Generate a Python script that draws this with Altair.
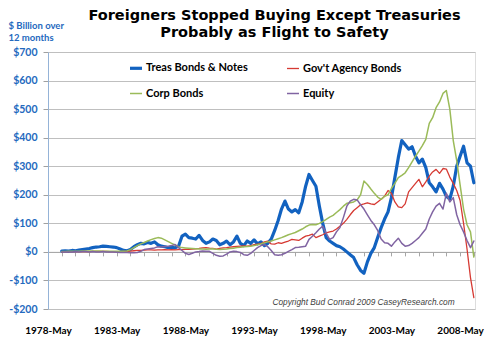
import altair as alt
import pandas as pd

# Quarterly observations, 1979-May .. 2009-May (12-month sums, $ billion)
dates = pd.date_range("1979-05-01", "2009-05-01", freq="3MS")

treas = [3, 4, 3,
         5, 4, 6, 8,  10, 12, 15, 17,  18, 20, 19, 18,  17, 15, 10, 5,
         4, 8, 18, 25,  30, 28, 33, 30,  35, 25, 20, 18,  15, 16, 14, 20,
         55, 62, 50, 48,  45, 58, 40, 30,  35, 45, 40, 25,  30, 38, 25, 35,
         55, 30, 22, 38,  30, 42, 28, 35,  22, 30, 45, 75,  110, 150, 178, 150,
         140, 148, 137, 175,  230, 271, 250, 230,  160, 100, 50, 38,  30, 22, 18, 10,
         0, -10, -20, -45,  -65, -75, -35, -5,  15, 50, 85, 115,  140, 190, 260, 330,
         390, 375, 360, 368,  335, 312, 325, 295,  242, 228, 210, 240,  220, 195, 185, 230,
         300, 335, 370, 312,
         300, 242]

agency = [0, 0, 1,
          1, 1, 1, 1,  1, 1, 2, 2,  2, 2, 2, 1,  1, 1, 1, 2,
          2, 3, 4, 5,  5, 6, 7, 7,  6, 7, 7, 8,  7, 8, 7, 8,
          8, 9, 9, 10,  11, 12, 14, 15,  13, 12, 10, 12,  14, 15, 17, 18,
          19, 20, 21, 20,  22, 25, 27, 29,  35, 38, 28, 27,  32, 30, 34, 38,
          44, 42, 40, 48,  55, 58, 62, 50,  55, 60, 67, 70,  73, 80, 90, 100,
          114, 130, 145, 155,  165, 168, 172, 168,  166, 175, 184, 195,  215, 205, 175, 158,
          155, 168, 210, 225,  240, 254, 228, 245,  265, 280, 289, 275,  292, 290, 262, 240,
          215, 180, 100, 10,
          -90, -160]

corp = [1, 1, 2,
        2, 2, 2, 3,  3, 3, 3, 3,  3, 2, 2, 2,  2, 2, 2, 2,
        3, 8, 15, 22,  28, 33, 38, 43,  47, 50, 48, 42,  36, 30, 24, 18,
        15, 14, 13, 12,  11, 10, 10, 9,  10, 11, 9, 8,  9, 10, 12, 13,
        15, 16, 18, 19,  20, 22, 25, 28,  32, 35, 38, 42,  46, 50, 55, 60,
        64, 68, 74, 80,  88, 94, 96, 95,  100, 106, 114, 122,  128, 138, 148, 160,
        170, 172, 175, 182,  200, 248, 236, 220,  205, 192, 184, 195,  200, 222, 240, 260,
        268, 277, 295, 315,  335, 353, 372, 394,  450, 470, 505, 525,  555, 565, 500, 390,
        320, 235, 150, 95,
        70, -18]

equity = [0, 0, 0,
          0, 1, 0, 1,  1, 0, 1, 0,  0, 1, 0, 0,  0, -1, -2, -2,
          -2, -3, -3, -2,  2, 8, 10, 12,  14, 18, 17, 19,  20, 22, 26, 15,
          5, -5, -9, -5,  0, 1, 3, 2,  2, -5, -12, -15,  -14, -8, 0, 2,
          1, -2, -10, -12,  -5, 5, 15, 22,  26, 18, 5, -10,  -12, -10, -5, 2,
          8, 15, 16, 18,  20, 44, 55, 67,  80, 90, 65, 44,  50, 70, 85, 120,
          160, 178, 184, 182,  165, 150, 130, 110,  95, 75, 45, 32,  30, 20, 35, 48,
          30, 20, 22, 30,  40, 50, 65, 80,  115, 140, 160, 170,  150, 205, 175, 190,
          130, 95, 70, 40,
          15, 38]

series_names = ["Treas Bonds & Notes", "Gov't Agency Bonds", "Corp Bonds", "Equity"]
series_colors = ["#1262C0", "#D63A33", "#9BBB59", "#8064A2"]
series_widths = [3.2, 1.3, 1.5, 1.5]
series_values = [treas, agency, corp, equity]

tick_years = list(range(1978, 2010))          # yearly category ticks on the $0 line
label_every = 5                               # labels at 1978, 1983, ... 2008
y_ticks = [-200, -100, 0, 100, 200, 300, 400, 500, 600, 700]
copyright_text = "Copyright Bud Conrad  2009 CaseyResearch.com"

FONT = "Lato, sans-serif"
BLUE_TXT = "#2469BE"

df = pd.concat([
    pd.DataFrame({"date": dates, "value": vals, "series": name})
    for name, vals in zip(series_names, series_values)
])

PLOT_W, PLOT_H = 427, 257
zero_px = PLOT_H * 700 / 900  # pixel position of $0 from the top

x_enc = alt.X(
    "date:T",
    scale=alt.Scale(domain=[alt.DateTime(year=1978, month=5, date=1),
                            alt.DateTime(year=2009, month=6, date=1)]),
    axis=alt.Axis(
        values=[alt.DateTime(year=y, month=5, date=1) for y in tick_years],
        labelExpr=f"(year(datum.value) - 1978) % {label_every} == 0 ? timeFormat(datum.value, '%Y-%b') : ''",
        offset=-(PLOT_H - zero_px), grid=False,
        domain=True, domainColor="#A6A6A6", ticks=True, tickColor="#A6A6A6", tickSize=4,
        labelPadding=70, labelFlush=False, labelFont=FONT, labelFontSize=10,
        labelFontWeight="bold", labelColor="black", labelOverlap=False, labelBound=False,
        title=copyright_text, titleFont="Liberation Sans, Arial, sans-serif",
        titleFontSize=8.3, titleFontStyle="italic", titleFontWeight="normal",
        titleColor="#404040", titleX=315, titleY=51, titleAlign="center",
        titleBaseline="middle", titleAnchor="start",
    ),
)

y_enc = alt.Y(
    "value:Q",
    scale=alt.Scale(domain=[-200, 700], nice=False, zero=False),
    axis=alt.Axis(
        values=y_ticks, tickCount=10,
        labelExpr="(datum.value < 0 ? '-$' : '$') + abs(datum.value)",
        title=["$ Billion over", "12 months"],
        titleAngle=0, titleAlign="left", titleBaseline="top",
        titleX=-40, titleY=-32, titleFont=FONT, titleFontSize=9.5,
        titleFontWeight="bold", titleColor=BLUE_TXT, titleLineHeight=12,
        labelFont=FONT, labelFontSize=10.5, labelFontWeight="bold",
        labelColor=BLUE_TXT, labelPadding=6, labelOverlap=False,
        tickSize=5, tickColor="#A0A0A0", domain=True, domainColor="#95B3D7",
        grid=True, gridColor="#BFBFBF", gridWidth=1,
    ),
)

legend = alt.Legend(
    orient="none", legendX=80, legendY=8, columns=2, direction="horizontal",
    title=None, symbolType="stroke", symbolSize=144, labelFont=FONT,
    labelFontSize=11, labelFontWeight="bold", labelColor="black",
    columnPadding=36, rowPadding=11.5, labelOffset=2, padding=0,
)
color_enc = alt.Color("series:N", scale=alt.Scale(domain=series_names, range=series_colors),
                      legend=legend)
width_enc = alt.StrokeWidth("series:N",
                            scale=alt.Scale(type="ordinal", domain=series_names,
                                            range=series_widths),
                            legend=legend)

line_layers = [
    alt.Chart(df).transform_filter(alt.datum.series == name).mark_line(
        strokeJoin="round", strokeCap="round"
    ).encode(x=x_enc, y=y_enc, color=color_enc, strokeWidth=width_enc)
    for name in series_names
]

chart = alt.layer(*line_layers).properties(
    width=PLOT_W, height=PLOT_H,
    padding={"left": 40, "top": 44, "right": 17, "bottom": 47},
    autosize=alt.AutoSizeParams(type="none"),
    title=alt.Title(
        text=["Foreigners Stopped Buying Except Treasuries", "Probably as Flight to Safety"],
        font="DejaVu Sans", fontSize=14.5, fontWeight="bold", color="black",
        anchor="middle", frame="group", offset=-20, dx=13, lineHeight=17,
    ),
).configure_view(stroke=None).configure(background="white")

chart.save("out.html", embed_options={"renderer": "svg", "actions": False})
